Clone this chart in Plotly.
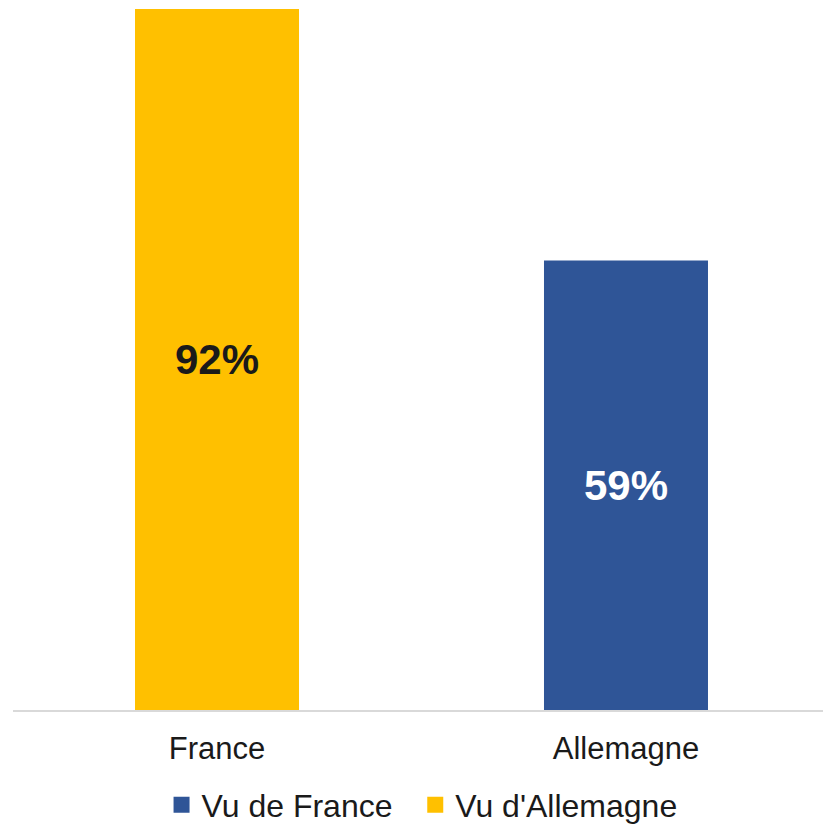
import plotly.graph_objects as go

categories = ["France", "Allemagne"]
series_names = ["Vu de France", "Vu d'Allemagne"]
vu_de_france = [None, 59]
vu_d_allemagne = [92, None]

BLUE = "#2F5597"
YELLOW = "#FFC000"
FONT = "Liberation Sans, Arial, sans-serif"

fig = go.Figure()
fig.add_trace(go.Bar(
    name=series_names[0], x=categories, y=vu_de_france,
    marker=dict(color=BLUE, line=dict(width=0)), width=0.401,
    texttemplate="<b>%{y}%</b>", textposition="inside", insidetextanchor="middle",
    textfont=dict(family=FONT, size=42, color="#FFFFFF"),
    hoverinfo="skip", showlegend=False,
))
fig.add_trace(go.Bar(
    name=series_names[1], x=categories, y=vu_d_allemagne,
    marker=dict(color=YELLOW, line=dict(width=0)), width=0.401,
    texttemplate="<b>%{y}%</b>", textposition="inside", insidetextanchor="middle",
    textfont=dict(family=FONT, size=42, color="#1A1A1A"),
    hoverinfo="skip", showlegend=False,
))
# legend entries (square swatches); non-breaking spaces widen the gap between entries
legend_pad = ["\u00a0\u00a0", ""]
for name, col, pad in zip(series_names, [BLUE, YELLOW], legend_pad):
    fig.add_trace(go.Scatter(
        name=name + pad, x=[None], y=[None], mode="markers",
        marker=dict(symbol="square", size=17, color=col),
        showlegend=True, hoverinfo="skip",
    ))

fig.update_layout(
    width=823, height=826,
    margin=dict(l=13, r=0, t=9, b=116, autoexpand=False),
    barmode="overlay",
    paper_bgcolor="white", plot_bgcolor="white",
    font=dict(family=FONT, color="#1A1A1A"),
    showlegend=True,
    legend=dict(
        orientation="h", x=0.505, xanchor="center", y=-0.1355, yanchor="middle",
        font=dict(family=FONT, size=32, color="#1A1A1A"),
        itemwidth=30, traceorder="normal", itemsizing="trace",
    ),
    xaxis=dict(
        type="category", categoryorder="array", categoryarray=categories,
        range=[-0.4988, 1.4817],
        showgrid=False, zeroline=False, showline=True, linecolor="#D9D9D9", linewidth=2,
        ticks="", tickfont=dict(family=FONT, size=31, color="#1A1A1A"),
        ticklabelstandoff=10,
    ),
    yaxis=dict(
        range=[0, 92], visible=False, showgrid=False, zeroline=False,
    ),
)

fig.write_html("out.html", config={"displayModeBar": False},
               post_script="document.body.style.margin='0';")
